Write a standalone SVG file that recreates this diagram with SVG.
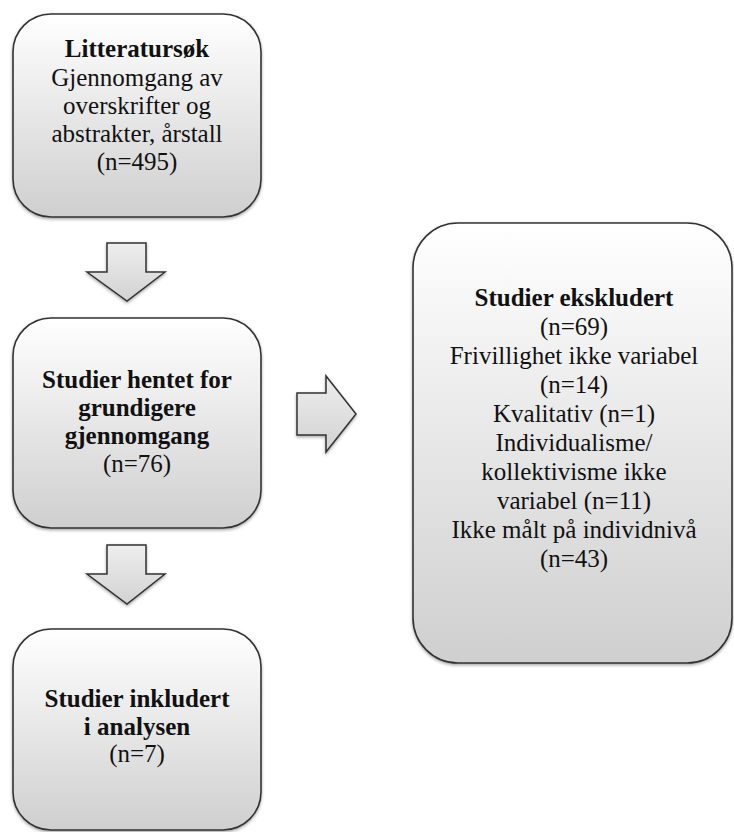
<svg xmlns="http://www.w3.org/2000/svg" width="734" height="832" viewBox="0 0 734 832">
<defs>
<linearGradient id="boxg" x1="0" y1="0" x2="0" y2="1">
<stop offset="0" stop-color="#ffffff"/>
<stop offset="1" stop-color="#cfcfcf"/>
</linearGradient>
<linearGradient id="arrg" x1="0" y1="0" x2="0" y2="1">
<stop offset="0" stop-color="#eeeeee"/>
<stop offset="1" stop-color="#d2d2d2"/>
</linearGradient>
<filter id="sh" x="-10%" y="-10%" width="120%" height="120%">
<feDropShadow dx="0" dy="1.5" stdDeviation="1.5" flood-color="#000" flood-opacity="0.35"/>
</filter>
</defs>
<style>
.box{fill:url(#boxg);stroke:#333;stroke-width:1.6;filter:url(#sh)}
.arr{fill:url(#arrg);stroke:#333;stroke-width:1.5;stroke-linejoin:miter;filter:url(#sh)}
text{font-family:'Liberation Serif','Times New Roman','DejaVu Serif',serif;font-size:25px;fill:#111;text-anchor:middle}
.b{font-weight:bold}
</style>
<rect width="734" height="832" fill="#ffffff"/>
<g id="connectors">
<path class="arr" d="M107,243 H146 V272 H165 L127,301 L87,272 H107 Z"/>
<path class="arr" d="M107,545 H146 V574 H165 L127,604 L87,574 H107 Z"/>
<path class="arr" d="M297,393 H326 V376 L356,414 L326,452 V435 H297 Z"/>
</g>
<g font-family="Liberation Serif, Times New Roman, serif">
<g id="node-litteratursok">
<rect class="box" x="13" y="14" width="248" height="203" rx="38" ry="38"/>
<text x="137" y="57" class="b">Litteratursøk</text>
<text x="137" y="86">Gjennomgang av</text>
<text x="137" y="114">overskrifter og</text>
<text x="137" y="142">abstrakter, årstall</text>
<text x="137" y="170">(n=495)</text>
</g>
<g id="node-hentet">
<rect class="box" x="13" y="318" width="248" height="210" rx="38" ry="38"/>
<text x="137" y="388" class="b">Studier hentet for</text>
<text x="137" y="416" class="b">grundigere</text>
<text x="137" y="444" class="b">gjennomgang</text>
<text x="137" y="472">(n=76)</text>
</g>
<g id="node-inkludert">
<rect class="box" x="13" y="629" width="248" height="201" rx="38" ry="38"/>
<text x="137" y="707" class="b">Studier inkludert</text>
<text x="137" y="735" class="b">i analysen</text>
<text x="137" y="762">(n=7)</text>
</g>
<g id="node-ekskludert">
<rect class="box" x="413" y="223" width="319" height="440" rx="45" ry="45"/>
<text x="574" y="306" class="b">Studier ekskludert</text>
<text x="574" y="335">(n=69)</text>
<text x="574" y="364">Frivillighet ikke variabel</text>
<text x="574" y="393">(n=14)</text>
<text x="574" y="422">Kvalitativ (n=1)</text>
<text x="574" y="451">Individualisme/</text>
<text x="574" y="480">kollektivisme ikke</text>
<text x="574" y="509">variabel (n=11)</text>
<text x="574" y="538">Ikke målt på individnivå</text>
<text x="574" y="567">(n=43)</text>
</g>
</g>
</svg>
